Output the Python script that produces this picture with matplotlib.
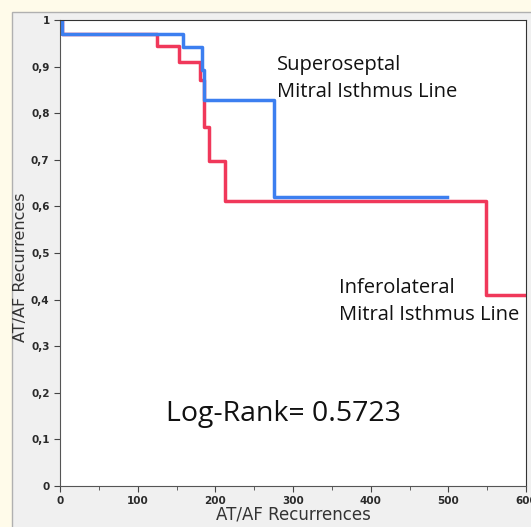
import matplotlib.pyplot as plt
from matplotlib.patches import Rectangle
from matplotlib.ticker import MultipleLocator, FuncFormatter

# Kaplan-Meier style step data
superoseptal_t = [0, 2, 158, 183, 186, 275, 498]
superoseptal_s = [1.0, 0.971, 0.942, 0.892, 0.828, 0.621, 0.621]

inferolateral_t = [0, 2, 125, 153, 180, 186, 192, 212, 549, 600]
inferolateral_s = [1.0, 0.971, 0.944, 0.910, 0.872, 0.770, 0.698, 0.612, 0.410, 0.410]

W, H = 531, 527
fig = plt.figure(figsize=(W / 100, H / 100), dpi=100)
fig.patch.set_facecolor("#fffbea")

# grey panel behind the plot
fig.patches.append(Rectangle((12 / W, -0.1), 1.2, (H - 12) / H + 0.1,
                             transform=fig.transFigure, facecolor="#f0f0f0",
                             edgecolor="#b0b0b0", lw=1, zorder=-10))

ax = fig.add_axes([60 / W, (H - 486) / H, 466 / W, 466 / H])
ax.set_facecolor("white")

ax.step(inferolateral_t, inferolateral_s, where="post", color="#f0385a", lw=2.5)
ax.step(superoseptal_t, superoseptal_s, where="post", color="#3c7ff0", lw=2.5)

ax.set_xlim(0, 600)
ax.set_ylim(0, 1)
ax.xaxis.set_major_locator(MultipleLocator(100))
ax.xaxis.set_minor_locator(MultipleLocator(50))
ax.yaxis.set_major_locator(MultipleLocator(0.1))
ax.yaxis.set_major_formatter(FuncFormatter(
    lambda v, p: "0" if abs(v) < 1e-9 else ("1" if abs(v - 1) < 1e-9 else f"{v:.1f}".replace(".", ","))))

ax.tick_params(which="both", direction="out", labelsize=7.5, colors="#444444",
               labelcolor="#2a2a2a")
ax.tick_params(which="major", length=4)
ax.tick_params(which="minor", length=3)
for lab in ax.get_xticklabels() + ax.get_yticklabels():
    lab.set_fontweight("bold")

for side in ["top", "right"]:
    ax.spines[side].set_color("#333333")
for side in ["left", "bottom"]:
    ax.spines[side].set_color("#555555")

ax.set_xlabel("AT/AF Recurrences", fontsize=12, color="#333333")
ax.set_ylabel("AT/AF Recurrences", fontsize=11.5, color="#333333")
ax.xaxis.set_label_coords(0.5, -0.042)
ax.yaxis.set_label_coords(-0.068, 0.47)

ax.text(279, 0.835, "Superoseptal\nMitral Isthmus Line",
        fontsize=14.5, family="Open Sans", color="#111111", va="baseline",
        linespacing=1.45)
ax.text(359, 0.356, "Inferolateral\nMitral Isthmus Line",
        fontsize=14.5, family="Open Sans", color="#111111", va="baseline",
        linespacing=1.45)
ax.text(136, 0.1395, "Log-Rank= 0.5723",
        fontsize=20.5, family="Open Sans", color="#111111", va="baseline")

fig.savefig("out.png", dpi=100, facecolor=fig.get_facecolor())
